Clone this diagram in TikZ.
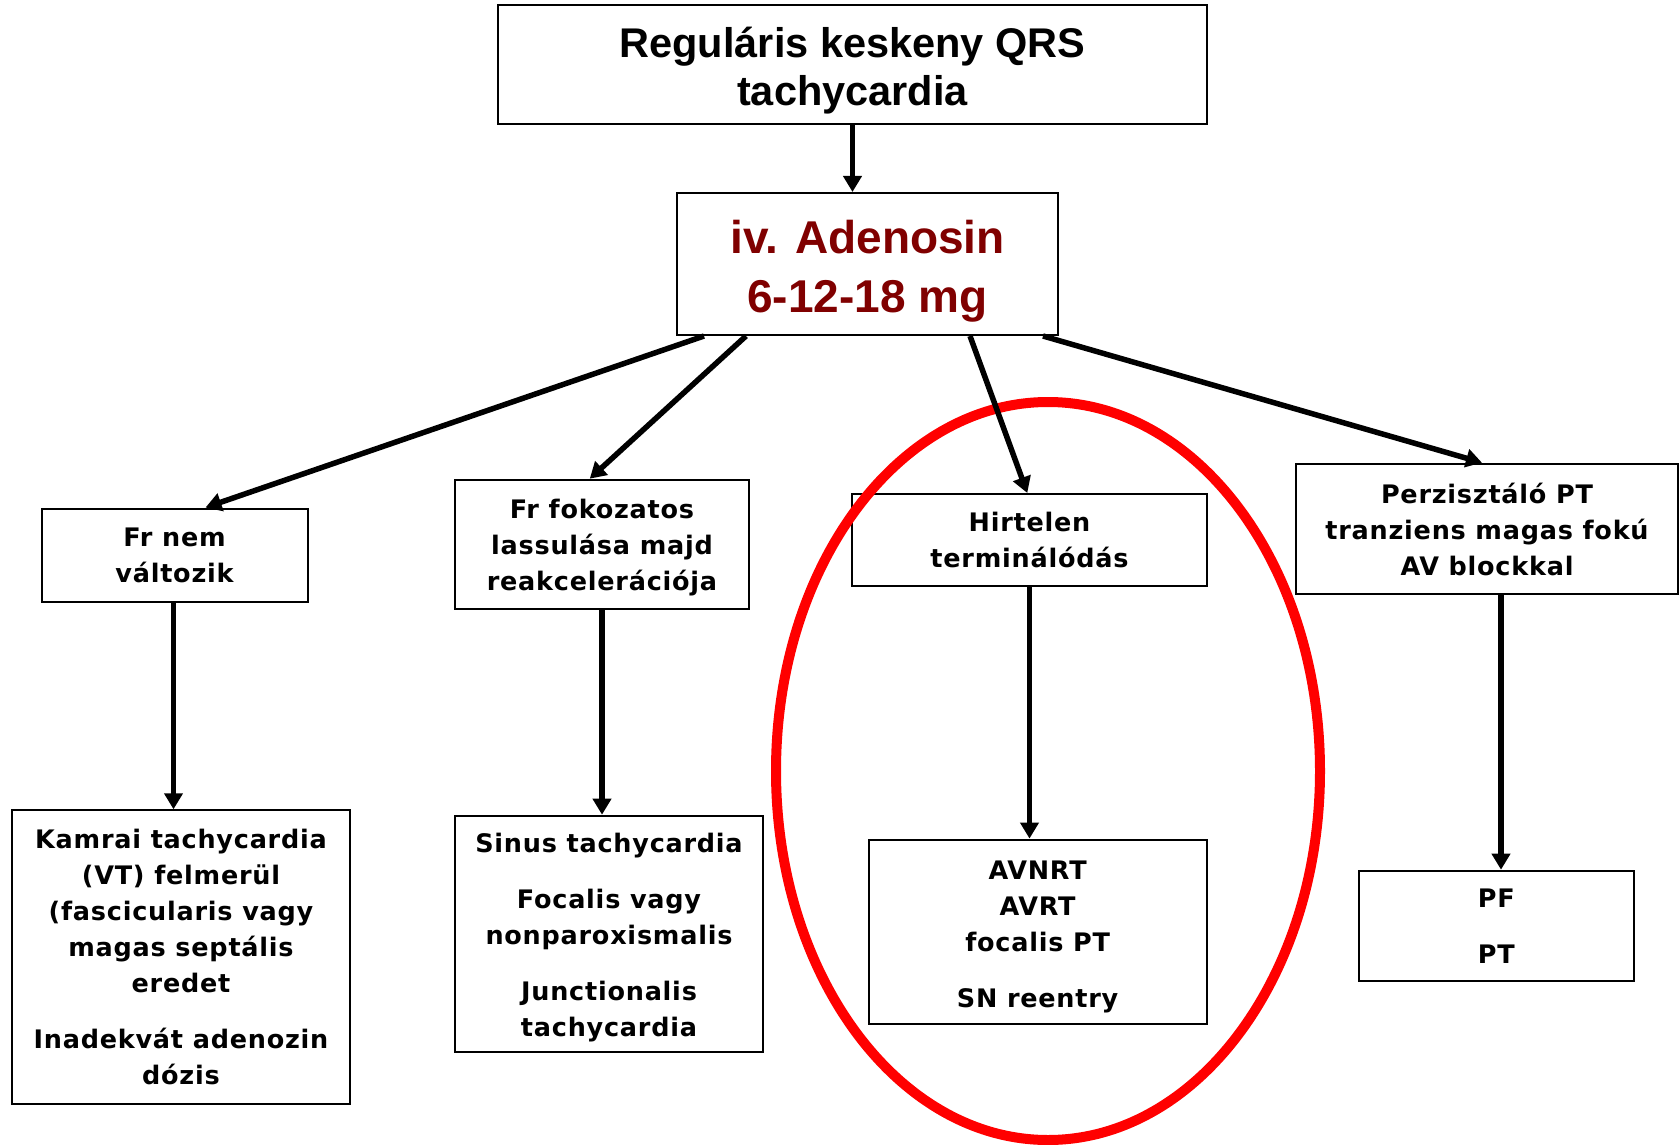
\documentclass[tikz,border=0pt]{standalone}
\usepackage{fontspec}
\setmainfont{DejaVu Sans}[LetterSpace=3]
\newfontfamily\headfont{Liberation Sans}
\usetikzlibrary{arrows.meta}
\definecolor{adenored}{RGB}{128,0,0}
\definecolor{ringred}{RGB}{255,0,0}
% invisible strut that lowers a text block inside its box
\newcommand{\lowerby}[1]{\rule{0pt}{#1}}

\begin{document}
\begin{tikzpicture}[x=1pt,y=-1pt,
  box/.style={draw=black, line width=2pt, fill=white, align=center, inner sep=0pt,
              font=\fontsize{25.5}{36}\selectfont\bfseries},
  flow/.style={draw=black, line width=5.5pt, -{Triangle[width=18pt,length=16pt]}}]

% canvas
\useasboundingbox (0,0) rectangle (1679,1145);
\fill[white] (0,0) rectangle (1679,1145);

% header and drug boxes
\node[box, minimum width=709pt, minimum height=119pt,
      font=\headfont\fontsize{41.5}{48}\selectfont\bfseries] (top) at (852.5,65)
  {\lowerby{42pt}Reguláris keskeny QRS\\tachycardia};
\node[box, minimum width=381pt, minimum height=142pt, text=adenored,
      font=\headfont\fontsize{46}{59}\selectfont\bfseries] (ad) at (867.5,264)
  {\lowerby{48pt}iv. Adenosin\\6-12-18 mg};

% response to adenosine
\node[box, minimum width=266pt, minimum height=93pt] (b1) at (174.5,555)
  {Fr nem\\változik};
\node[box, minimum width=294.5pt, minimum height=129.6pt] (b2) at (602,544.5)
  {\lowerby{25pt}Fr fokozatos\\lassulása majd\\reakcelerációja};
\node[box, minimum width=354.4pt, minimum height=92pt] (b3) at (1029.5,540)
  {Hirtelen\\terminálódás};
\node[box, minimum width=382pt, minimum height=130.6pt] (b4) at (1487,529)
  {Perzisztáló PT\\tranziens magas fokú\\AV blockkal};

% diagnoses
\node[box, minimum width=338pt, minimum height=293.4pt] (c1) at (181,957)
  {Kamrai tachycardia\\(VT) felmerül\\(fascicularis vagy\\magas septális\\eredet\\[20pt]Inadekvát adenozin\\dózis};
\node[box, minimum width=308pt, minimum height=236.6pt] (c2) at (609,934)
  {\lowerby{26pt}Sinus tachycardia\\[20pt]Focalis vagy\\nonparoxismalis\\[20pt]Junctionalis\\tachycardia};
\node[box, minimum width=338pt, minimum height=184pt] (c3) at (1037.6,931.6)
  {\lowerby{28.5pt}AVNRT\\AVRT\\focalis PT\\[20pt]SN reentry};
\node[box, minimum width=275pt, minimum height=110pt] (c4) at (1496.4,925.7)
  {PF\\[20pt]PT};

% highlight ring
\draw[ringred, line width=10pt] (1048,771) ellipse [x radius=272pt, y radius=369pt];

% connectors
\draw[flow] (top.south) -- (top.south |- ad.north);
\draw[flow] ([xshift=28]ad.south west) -- ([xshift=165]b1.north west);
\draw[flow] ([xshift=70]ad.south west) -- ([xshift=136]b2.north west);
\draw[flow] ([xshift=294]ad.south west) -- ([xshift=176]b3.north west);
\draw[flow] ([xshift=367]ad.south west) -- ([xshift=187]b4.north west);

\coordinate (b1out) at ([xshift=-1]b1.south);
\coordinate (b4out) at ([xshift=14]b4.south);
\draw[flow] (b1out) -- (b1out |- c1.north);
\draw[flow] (b2.south) -- (b2.south |- c2.north);
\draw[flow] (b3.south) -- (b3.south |- c3.north);
\draw[flow] (b4out) -- (b4out |- c4.north);
\end{tikzpicture}
\end{document}
